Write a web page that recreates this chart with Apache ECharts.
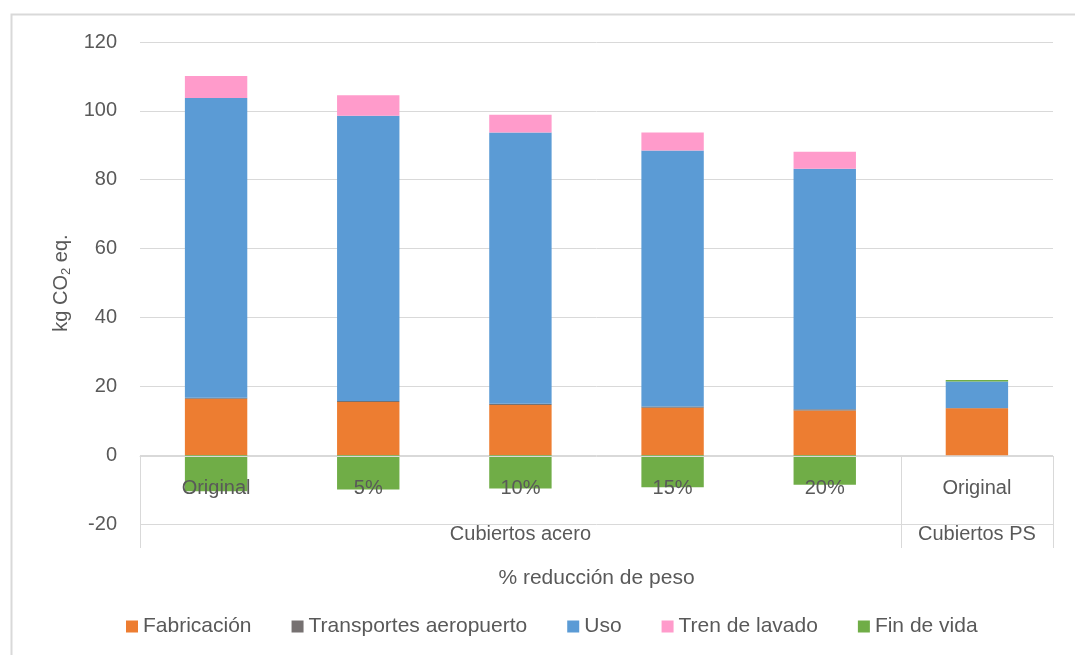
<!DOCTYPE html>
<html>
<head>
<meta charset="utf-8">
<script src="https://cdn.jsdelivr.net/npm/echarts@6/dist/echarts.min.js"></script>
<style>
html,body{margin:0;padding:0;background:#fff;overflow:hidden;}
#chart{width:1075px;height:655px;}
</style>
</head>
<body>
<div id="chart"></div>
<script>
const categories = ['Original', '5%', '10%', '15%', '20%', 'Original'];
const groups = ['Cubiertos acero', 'Cubiertos PS'];
const groupCenters = [2.5, 5.5];
const groupBounds = [0, 5, 6];
const fabricacion = [16.4, 15.4, 14.6, 13.8, 13.0, 13.6];
const transportes = [0.3, 0.3, 0.3, 0.3, 0.3, 0.1];
const uso = [87.0, 82.9, 78.8, 74.4, 69.9, 7.7];
const trenLavado = [6.4, 5.9, 5.2, 5.2, 4.9, 0];
const finVida = [-10.5, -10.0, -9.7, -9.3, -8.6, 0.4];
const yTicks = { min: -20, max: 120, interval: 20 };

const FONT = 'Liberation Sans';
const TXT = '#595959';
const GRID = '#d9d9d9';

const chart = echarts.init(document.getElementById('chart'));
function bar(name, data, color) {
  return {
    name, type: 'bar', stack: 'total', data, xAxisIndex: 0, yAxisIndex: 0,
    barWidth: '41%', itemStyle: { color }, emphasis: { disabled: true }
  };
}
chart.setOption({
  animation: false,
  textStyle: { fontFamily: FONT },
  graphic: [{
    type: 'rect', left: 9, top: 12, shape: { width: 1100, height: 700 },
    style: { fill: 'none', stroke: GRID, lineWidth: 2 }, silent: true
  }],
  grid: { left: 140, width: 913, top: 42, height: 482, outerBoundsMode: 'none', containLabel: false },
  legend: {
    top: 611, left: 121, itemWidth: 12, itemHeight: 12, itemGap: 40,
    icon: 'rect',
    textStyle: { fontFamily: FONT, fontSize: 21, color: TXT },
    data: ['Fabricación', 'Transportes aeropuerto', 'Uso', 'Tren de lavado', 'Fin de vida']
  },
  xAxis: [{
    type: 'category', data: categories, position: 'bottom', offset: -68, z: 10,
    axisLine: { onZero: false, lineStyle: { color: GRID, width: 1 } },
    axisTick: { show: false },
    axisLabel: { margin: 22, fontSize: 20, color: TXT, fontFamily: FONT, interval: 0 }
  }, {
    type: 'value', min: 0, max: 6, position: 'bottom', offset: -68,
    axisLine: { show: false, onZero: false },
    splitLine: { show: false },
    axisTick: { show: true, length: 92, customValues: groupBounds, lineStyle: { color: GRID } },
    axisLabel: {
      customValues: groupCenters, margin: 68, fontSize: 20, color: TXT, fontFamily: FONT,
      formatter: v => groups[groupCenters.indexOf(v)]
    },
    name: '% reducción de peso', nameLocation: 'middle', nameGap: 112, nameMoveOverlap: false,
    nameTextStyle: { fontSize: 21, color: TXT, fontFamily: FONT }
  }],
  yAxis: {
    type: 'value', min: yTicks.min, max: yTicks.max, interval: yTicks.interval,
    axisLine: { show: false, onZero: false }, axisTick: { show: false },
    splitLine: { lineStyle: { color: GRID, width: 1 } },
    axisLabel: { margin: 23, fontSize: 20, color: TXT, fontFamily: FONT },
    name: 'kg CO{sub|2} eq.', nameLocation: 'middle', nameGap: 64, nameRotate: 90,
    nameTextStyle: {
      fontSize: 20, color: TXT, fontFamily: FONT,
      rich: { sub: { fontSize: 13, color: TXT, fontFamily: FONT, verticalAlign: 'bottom', padding: [10, 0, 0, 0] } }
    }
  },
  series: [
    bar('Fabricación', fabricacion, '#ED7D31'),
    bar('Transportes aeropuerto', transportes, '#767171'),
    bar('Uso', uso, '#5B9BD5'),
    bar('Tren de lavado', trenLavado, '#FF9BCB'),
    bar('Fin de vida', finVida, '#70AD47')
  ]
});
</script>
</body>
</html>
